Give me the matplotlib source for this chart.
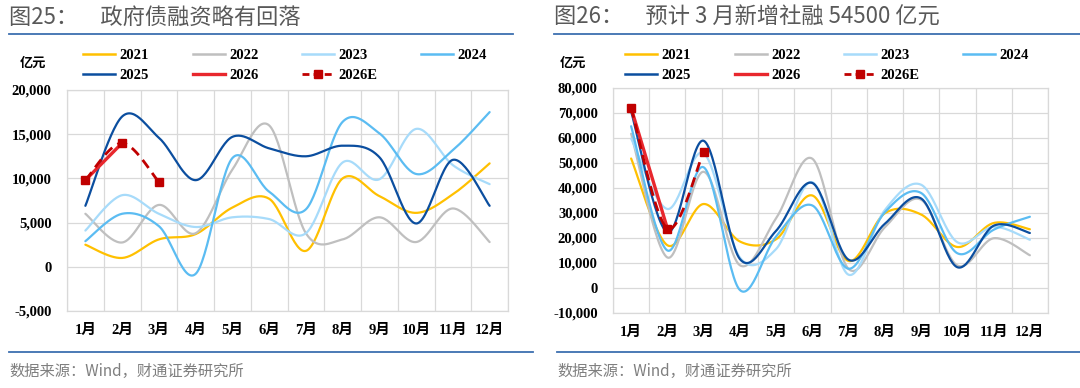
import numpy as np
import matplotlib.pyplot as plt
from matplotlib.lines import Line2D
from matplotlib.ticker import FuncFormatter, MultipleLocator

# month labels
months = [f"{i}月" for i in range(1, 13)]
years = ["2021", "2022", "2023", "2024", "2025", "2026", "2026E"]

# 图25: 政府债融资 (亿元)
gov_2021 = [2500, 1000, 3100, 3700, 6700, 7700, 1800, 10000, 8000, 6100, 8200, 11700]
gov_2022 = [6000, 2750, 7000, 3800, 11000, 16000, 3800, 3100, 5600, 2800, 6600, 2800]
gov_2023 = [4100, 8100, 6000, 4500, 5600, 5400, 3800, 11800, 9900, 15600, 11500, 9350]
gov_2024 = [2900, 6000, 4600, -800, 12300, 8500, 6500, 16400, 15100, 10500, 13200, 17500]
gov_2025 = [6900, 17000, 14600, 9800, 14700, 13400, 12500, 13700, 12400, 4900, 12100, 6900]
gov_2026 = [9800, 14000]
gov_2026e = [9800, 14000, 9600]

# 图26: 新增社融 (亿元)
tsf_2021 = [51800, 17100, 33600, 18600, 19500, 37000, 10800, 29900, 29400, 16400, 26000, 23500]
tsf_2022 = [61700, 12200, 46500, 9100, 27900, 51700, 7600, 24300, 35300, 9000, 19900, 13100]
tsf_2023 = [59800, 31600, 53900, 12200, 15600, 42300, 5300, 31200, 41300, 18300, 24500, 19300]
tsf_2024 = [64700, 15000, 48300, -800, 20600, 33000, 7700, 30300, 38000, 13900, 23300, 28500]
tsf_2025 = [70600, 22300, 58900, 11600, 22900, 42000, 11300, 25700, 35800, 8300, 24900, 22000]
tsf_2026 = [72000, 23800]
tsf_2026e = [72000, 23800, 54500]

colors = {
    "2021": "#FFC000",
    "2022": "#BFBFBF",
    "2023": "#A7DBFA",
    "2024": "#5BBCF2",
    "2025": "#0B4E9F",
    "2026": "#E8272D",
    "2026E": "#C00000",
}

TICK_FONT = ["Liberation Serif", "Noto Sans CJK SC"]
CJK_FONT = ["Noto Sans CJK SC", "DejaVu Sans"]
BLUE_RULE = "#3D6FB0"


def excel_smooth(vals, n=30):
    """Excel style smoothed line: bezier through points, control points from neighbours / 6."""
    y = np.asarray(vals, dtype=float)
    x = np.arange(1, len(y) + 1, dtype=float)
    if len(y) < 3:
        return x, y
    px = np.concatenate([[x[0]], x, [x[-1]]])
    py = np.concatenate([[y[0]], y, [y[-1]]])
    t = np.linspace(0, 1, n)[:, None]
    out = []
    for i in range(len(y) - 1):
        p0 = np.array([x[i], y[i]])
        p3 = np.array([x[i + 1], y[i + 1]])
        c1 = p0 + (np.array([px[i + 2], py[i + 2]]) - np.array([px[i], py[i]])) / 6
        c2 = p3 - (np.array([px[i + 3], py[i + 3]]) - np.array([px[i + 1], py[i + 1]])) / 6
        seg = ((1 - t) ** 3) * p0 + 3 * ((1 - t) ** 2) * t * c1 + 3 * (1 - t) * t ** 2 * c2 + t ** 3 * p3
        out.append(seg if i == 0 else seg[1:])
    pts = np.vstack(out)
    return pts[:, 0], pts[:, 1]


def draw_panel(fig, rect, series, ylim, ystep, title, rule_top, rule_bottom, ylab_x, legend_x):
    ax = fig.add_axes(rect)
    for yr in years[:5]:
        xs, ys = excel_smooth(series[yr])
        ax.plot(xs, ys, color=colors[yr], lw=1.6, solid_capstyle="round", zorder=3)
    # 2026 actual
    v26 = series["2026"]
    ax.plot(np.arange(1, len(v26) + 1), v26, color=colors["2026"], lw=2.4, zorder=4)
    # 2026 estimate
    xe, ye = excel_smooth(series["2026E"])
    ax.plot(xe, ye, color=colors["2026E"], lw=2.0, ls=(0, (3.6, 2.2)), zorder=5)
    ve = series["2026E"]
    ax.plot(np.arange(1, len(ve) + 1), ve, ls="none", marker="s", ms=5.5,
            color=colors["2026E"], zorder=6)

    ax.set_xlim(0.5, 12.5)
    ax.set_ylim(*ylim)
    ax.yaxis.set_major_locator(MultipleLocator(ystep))
    ax.yaxis.set_major_formatter(FuncFormatter(lambda v, p: f"{v:,.0f}"))
    ax.set_xticks(np.arange(1, 13))
    ax.set_xticklabels(months)
    ax.set_xticks(np.arange(0.5, 13, 1), minor=True)
    ax.grid(True, axis="y", color="#D9D9D9", lw=0.9)
    ax.grid(True, axis="x", which="minor", color="#D9D9D9", lw=0.9)
    ax.tick_params(axis="both", which="both", length=0)
    ax.tick_params(axis="y", pad=11)
    ax.tick_params(axis="x", pad=9)
    for s in ax.spines.values():
        s.set_color("#D9D9D9")
        s.set_linewidth(0.9)
    for lab in ax.get_yticklabels() + ax.get_xticklabels():
        lab.set_family(TICK_FONT)
        lab.set_fontweight("bold")
        lab.set_fontsize(10.5)
    ax.set_axisbelow(True)

    # legend, row-major order as in the source (matplotlib fills columns first)
    handles = {}
    for yr in years:
        if yr == "2026E":
            h = Line2D([], [], color=colors[yr], lw=2.0, ls=(0, (2.5, 1.5)), marker="s", ms=6)
        elif yr == "2026":
            h = Line2D([], [], color=colors[yr], lw=2.4)
        else:
            h = Line2D([], [], color=colors[yr], lw=1.8)
        handles[yr] = h
    order = ["2021", "2025", "2022", "2026", "2023", "2026E", "2024"]
    fig.legend([handles[k] for k in order], order, ncol=4, loc="upper left", frameon=False,
               bbox_to_anchor=(legend_x, 1 - 49 / 388), borderpad=0, borderaxespad=0,
               handlelength=2.2, handletextpad=0.3, columnspacing=3.0, labelspacing=0.45,
               prop={"family": TICK_FONT, "weight": "bold", "size": 10.5})

    fig.text(ylab_x, 1 - 63 / 388, "亿元", family=CJK_FONT, fontsize=9.5, fontweight="bold",
             ha="center", va="center")
    fig.text(rule_top[0], 1 - 17 / 388, title, family=CJK_FONT, fontsize=16, color="#595959",
             ha="left", va="center")
    fig.add_artist(Line2D([rule_top[0], rule_top[1]], [1 - 34 / 388] * 2, color=BLUE_RULE, lw=1.3))
    fig.add_artist(Line2D([rule_bottom[0], rule_bottom[1]], [1 - 352 / 388] * 2, color=BLUE_RULE, lw=1.3))
    fig.text(rule_bottom[0], 1 - 371 / 388, "数据来源：Wind，财通证券研究所", family=CJK_FONT,
             fontsize=11, color="#7F7F7F", ha="left", va="center")
    return ax


fig = plt.figure(figsize=(10.8, 3.88), dpi=100)

gov = {"2021": gov_2021, "2022": gov_2022, "2023": gov_2023, "2024": gov_2024,
       "2025": gov_2025, "2026": gov_2026, "2026E": gov_2026e}
tsf = {"2021": tsf_2021, "2022": tsf_2022, "2023": tsf_2023, "2024": tsf_2024,
       "2025": tsf_2025, "2026": tsf_2026, "2026E": tsf_2026e}

draw_panel(fig, [67 / 1080, 77 / 388, 441 / 1080, 221 / 388], gov, (-5000, 20000), 5000,
           "图25：　政府债融资略有回落", (9 / 1080, 513 / 1080), (9 / 1080, 533 / 1080),
           33 / 1080, 83 / 1080)
draw_panel(fig, [613 / 1080, 75 / 388, 435 / 1080, 225 / 388], tsf, (-10000, 80000), 10000,
           "图26：　预计 3 月新增社融 54500 亿元", (554 / 1080, 1.0), (557 / 1080, 1.0),
           573 / 1080, 625 / 1080)

fig.savefig("out.png", dpi=100)
